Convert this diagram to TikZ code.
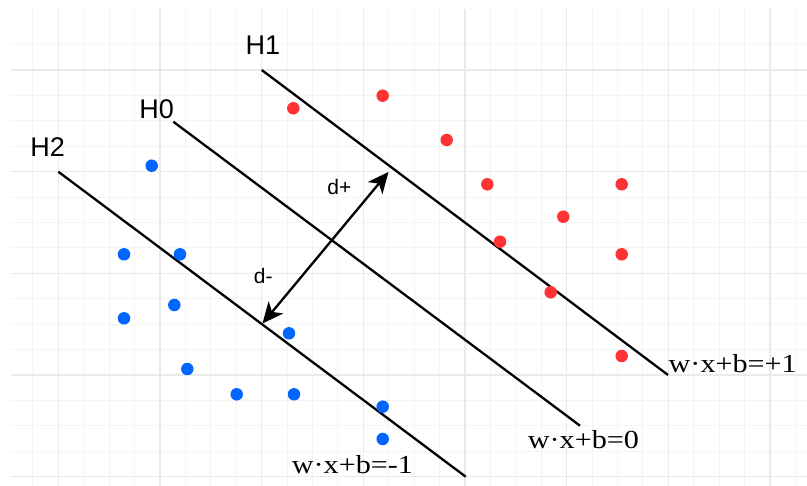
\documentclass[tikz,border=0pt]{standalone}
\usepackage{fontspec}
\usepackage{graphicx}
\setmainfont{Liberation Serif}
\setsansfont{Liberation Sans}
\usetikzlibrary{arrows.meta}
\definecolor{ptred}{HTML}{FF3333}
\definecolor{ptblue}{HTML}{0066FF}
\definecolor{gridmaj}{HTML}{EAEAEA}
\definecolor{gridmin}{HTML}{F4F4F4}
\tikzset{
  bighead/.tip={Stealth[length=21pt,width=19pt,inset=6pt]}
}
\begin{document}
\begin{tikzpicture}[x=1pt,y=-1pt,
  hyper/.style={line width=2.3pt, black},
  rdot/.style={circle, fill=ptred, inner sep=0pt, minimum size=12.5pt},
  bdot/.style={circle, fill=ptblue, inner sep=0pt, minimum size=12.5pt},
  hlabel/.style={font=\sffamily\fontsize{27}{32}\selectfont, anchor=base, inner sep=0pt},
  dlabel/.style={font=\sffamily\fontsize{21}{25}\selectfont, anchor=base, inner sep=0pt},
  eqlabel/.style={font=\fontsize{26}{30}\selectfont, anchor=base west, inner sep=0pt},
  marg/.style={line width=2.3pt, bighead-bighead},
  gmin/.style={draw=gridmin, line width=1pt},
  gmaj/.style={draw=gridmaj, line width=1.3pt}
]
\useasboundingbox (0,0) rectangle (807,486);
\fill[white] (0,0) rectangle (807,486);
% grid
\begin{scope}
  \clip (11,9) rectangle (807,486);
  \foreach \k in {-1,...,31} {\draw[gmin] ({58.33+\k*25.42},9) -- ({58.33+\k*25.42},486);}
  \foreach \k in {-1,...,17} {\draw[gmin] (11,{70+\k*25.42}) -- (807,{70+\k*25.42});}
  \foreach \k in {0,...,7} {\draw[gmaj] ({58.33+\k*101.67},9) -- ({58.33+\k*101.67},486);}
  \foreach \k in {0,...,4} {\draw[gmaj] (11,{70+\k*101.67}) -- (807,{70+\k*101.67});}
\end{scope}
% hyperplanes
\coordinate (h1a) at (261.7,70);
\coordinate (h1b) at (668,375);
\coordinate (h0a) at (173.3,121.7);
\coordinate (h0b) at (580,425.7);
\coordinate (h2a) at (58.3,171.7);
\coordinate (h2b) at (465.7,476.7);
\draw[hyper] (h1a) -- (h1b);
\draw[hyper] (h0a) -- (h0b);
\draw[hyper] (h2a) -- (h2b);
% labels
\node[hlabel] (lh1) at (263,55) {H1};
\node[hlabel] (lh0) at (156.7,119) {H0};
\node[hlabel] (lh2) at (47.7,156.7) {H2};
\node[dlabel] (ldp) at (339.3,194.3) {d+};
\node[dlabel] (ldm) at (263.3,283.3) {d-};
\node[eqlabel] (eqp) at (668.5,372.7) {\scalebox{1.16}[1]{w·x+b=+1}};
\node[eqlabel] (eqz) at (527.7,448.3) {\scalebox{1.16}[1]{w·x+b=0}};
\node[eqlabel] (eqm) at (291.7,473.3) {\scalebox{1.16}[1]{w·x+b=-1}};
% margin arrow
\coordinate (dm) at (262.5,323.5);
\coordinate (dp) at (388.5,172);
\draw[marg] (dm) -- (dp);
% red points
\node[rdot] (r1) at (293.3,108.3) {};
\node[rdot] (r2) at (382.7,95.7) {};
\node[rdot] (r3) at (446.7,140) {};
\node[rdot] (r4) at (487.3,184.3) {};
\node[rdot] (r5) at (621.7,184.3) {};
\node[rdot] (r6) at (563.3,216.7) {};
\node[rdot] (r7) at (500,241.7) {};
\node[rdot] (r8) at (621.7,254.3) {};
\node[rdot] (r9) at (550.7,292.3) {};
\node[rdot] (r10) at (621.7,356) {};
% blue points
\node[bdot] (b1) at (151.7,165.7) {};
\node[bdot] (b2) at (124,254.3) {};
\node[bdot] (b3) at (180,254.3) {};
\node[bdot] (b4) at (174.3,305) {};
\node[bdot] (b5) at (124,318.3) {};
\node[bdot] (b6) at (289,333.3) {};
\node[bdot] (b7) at (187.3,369) {};
\node[bdot] (b8) at (236.7,394.3) {};
\node[bdot] (b9) at (294,394.3) {};
\node[bdot] (b10) at (382.7,406.7) {};
\node[bdot] (b11) at (382.7,439) {};
\end{tikzpicture}
\end{document}
